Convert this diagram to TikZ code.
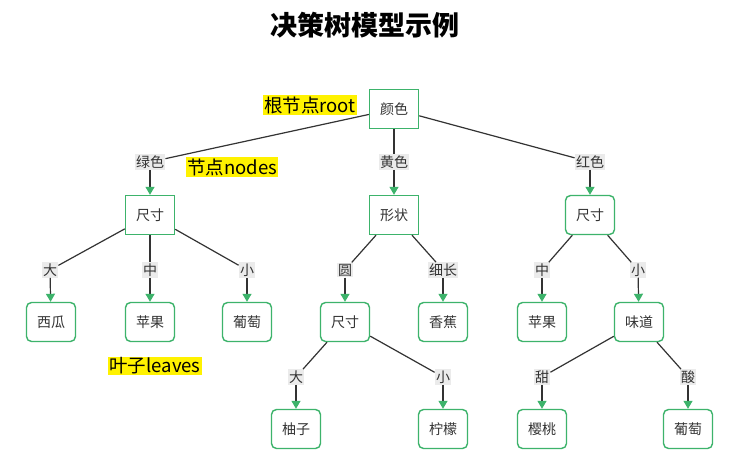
\documentclass[tikz,border=0pt]{standalone}
\usepackage{fontspec}
\setmainfont{Noto Sans CJK SC}
\usetikzlibrary{arrows.meta}
\definecolor{boxgreen}{HTML}{3DB36B}
\definecolor{linegray}{HTML}{333333}
\definecolor{labgray}{HTML}{EBEBEB}
\tikzset{
  sqbox/.style={draw=boxgreen, line width=1.4pt, fill=white, minimum width=49pt, minimum height=39pt, inner sep=0pt, font=\fontsize{14}{16}\selectfont, text=linegray},
  rdbox/.style={sqbox, rounded corners=5pt},
  elab/.style={fill=labgray, inner sep=1.2pt, font=\fontsize{14}{16}\selectfont, text=linegray},
  hl/.style={fill=yellow, inner sep=1pt, font=\fontsize{18.5}{21}\selectfont, text=black},
  conn/.style={draw=linegray, line width=1.2pt},
  arr/.style={conn, -{Triangle[width=9pt,length=8pt,color=boxgreen]}},
}
\begin{document}
\begin{tikzpicture}[x=1pt,y=-1pt]
\fill[white] (0,0) rectangle (744,468);
\useasboundingbox (0,0) rectangle (744,468);
\node[font=\fontsize{27}{30}\selectfont\bfseries] (title) at (365,25) {决策树模型示例};
% level 0
\node[sqbox] (root) at (394,109) {颜色};
% level 1 labels
\node[elab] (lg) at (150,162) {绿色};
\node[elab] (ly) at (394,162) {黄色};
\node[elab] (lr) at (590,162) {红色};
% level 1 nodes
\node[sqbox] (a) at (150,215) {尺寸};
\node[sqbox] (b) at (394,215) {形状};
\node[rdbox] (c) at (590,215) {尺寸};
% level 2 labels
\node[elab] (la1) at (50,270) {大};
\node[elab] (la2) at (150,270) {中};
\node[elab] (la3) at (247,270) {小};
\node[elab] (lb1) at (345,270) {圆};
\node[elab] (lb2) at (443,270) {细长};
\node[elab] (lc1) at (542,270) {中};
\node[elab] (lc2) at (638,270) {小};
% level 2 nodes
\node[rdbox] (xg) at (51,322) {西瓜};
\node[rdbox] (pg1) at (150,322) {苹果};
\node[rdbox] (pt1) at (247,322) {葡萄};
\node[rdbox] (d) at (345,322) {尺寸};
\node[rdbox] (xj) at (443,322) {香蕉};
\node[rdbox] (pg2) at (542,322) {苹果};
\node[rdbox] (e) at (639,322) {味道};
% level 3 labels
\node[elab] (ld1) at (296,377) {大};
\node[elab] (ld2) at (443,377) {小};
\node[elab] (le1) at (542,377) {甜};
\node[elab] (le2) at (688,377) {酸};
% level 3 nodes
\node[rdbox] (yz) at (296,429) {柚子};
\node[rdbox] (nm) at (443,429) {柠檬};
\node[rdbox] (yt) at (542,429) {樱桃};
\node[rdbox] (pt2) at (688,429) {葡萄};
% connectors
\draw[conn] (root) -- (lg);
\draw[conn] (root) -- (ly);
\draw[conn] (root) -- (lr);
\draw[arr] (lg) -- (a);
\draw[arr] (ly) -- (b);
\draw[arr] (lr) -- (c);
\draw[conn] (a) -- (la1);
\draw[conn] (a) -- (la2);
\draw[conn] (a) -- (la3);
\draw[conn] (b) -- (lb1);
\draw[conn] (b) -- (lb2);
\draw[conn] (c) -- (lc1);
\draw[conn] (c) -- (lc2);
\draw[arr] (la1) -- (xg);
\draw[arr] (la2) -- (pg1);
\draw[arr] (la3) -- (pt1);
\draw[arr] (lb1) -- (d);
\draw[arr] (lb2) -- (xj);
\draw[arr] (lc1) -- (pg2);
\draw[arr] (lc2) -- (e);
\draw[conn] (d) -- (ld1);
\draw[conn] (d) -- (ld2);
\draw[conn] (e) -- (le1);
\draw[conn] (e) -- (le2);
\draw[arr] (ld1) -- (yz);
\draw[arr] (ld2) -- (nm);
\draw[arr] (le1) -- (yt);
\draw[arr] (le2) -- (pt2);
% highlights
\node[hl] (h1) at (310,105) {根节点root};
\node[hl] (h2) at (232,167) {节点nodes};
\node[hl] (h3) at (155,366) {叶子leaves};
\end{tikzpicture}
\end{document}
